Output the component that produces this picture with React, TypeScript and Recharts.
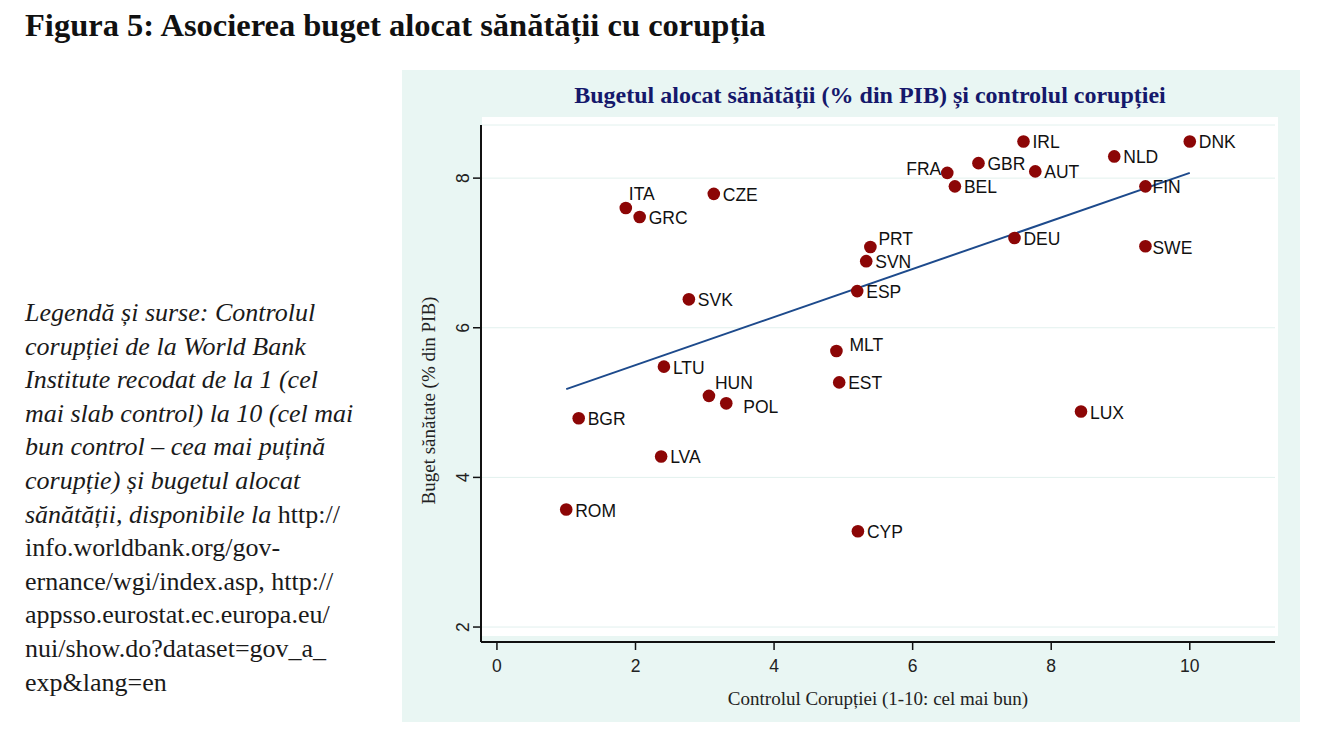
import React from 'react'
import {
  ScatterChart,
  Scatter,
  XAxis,
  YAxis,
  CartesianGrid,
} from 'recharts'

// Country codes, control of corruption (1-10) and health budget (% of GDP)
const countries = [
  'ROM', 'BGR', 'ITA', 'GRC', 'CZE', 'SVK', 'LTU', 'HUN', 'POL',
  'LVA', 'MLT', 'EST', 'CYP', 'ESP', 'SVN', 'PRT', 'FRA', 'BEL',
  'GBR', 'IRL', 'AUT', 'DEU', 'NLD', 'FIN', 'SWE', 'DNK', 'LUX',
]
const corruptionControl = [
  1.0, 1.18, 1.86, 2.06, 3.13, 2.77, 2.41, 3.06, 3.31,
  2.37, 4.9, 4.94, 5.21, 5.2, 5.33, 5.39, 6.5, 6.61,
  6.95, 7.6, 7.77, 7.47, 8.91, 9.36, 9.36, 10.0, 8.43,
]
const healthBudget = [
  3.57, 4.79, 7.6, 7.48, 7.79, 6.38, 5.48, 5.09, 4.99,
  4.28, 5.69, 5.27, 3.28, 6.49, 6.89, 7.08, 8.07, 7.89,
  8.2, 8.49, 8.09, 7.2, 8.29, 7.89, 7.09, 8.49, 4.88,
]

// fitted linear trend, end points
const fitX = [1.0, 10.0]
const fitY = [5.18, 8.07]

const xTicks = [0, 2, 4, 6, 8, 10]
const yTicks = [2, 4, 6, 8]

const points = countries.map((code, i) => ({
  code,
  x: corruptionControl[i],
  y: healthBudget[i],
}))
const fitData = fitX.map((x, i) => ({ x, y: fitY[i] }))

// marker label placement: [dx, dy, anchor]
const labelPos: Record<string, [number, number, 'start' | 'end']> = {
  ITA: [3, -14, 'start'],
  HUN: [6, -13, 'start'],
  POL: [17, 4, 'start'],
  MLT: [13, -6, 'start'],
  FRA: [-6, -4, 'end'],
  PRT: [8, -8, 'start'],
  FIN: [7, 1, 'start'],
  SWE: [7, 2, 'start'],
}

const sans = '"Liberation Sans", Arial, sans-serif'
const serif = '"Liberation Serif", "Times New Roman", serif'

const PointShape = (props: any) => {
  const { cx, cy, payload } = props
  const [dx, dy, anchor] = labelPos[payload.code] || [9, 1, 'start']
  return (
    <g>
      <circle cx={cx} cy={cy} r={6.3} fill="#8c0606" />
      <text
        x={cx + dx}
        y={cy + dy}
        textAnchor={anchor}
        dominantBaseline="central"
        fontFamily={sans}
        fontSize={17.5}
        fill="#111"
      >
        {payload.code}
      </text>
    </g>
  )
}

const YTick = ({ x, y, payload }: any) => (
  <text
    x={x - 8}
    y={y}
    transform={`rotate(-90 ${x - 8} ${y})`}
    textAnchor="middle"
    dominantBaseline="central"
    fontFamily={sans}
    fontSize={17.5}
    fill="#222"
  >
    {payload.value}
  </text>
)

const leftLines: { it: string; up?: string }[] = [
  { it: 'Legendă și surse: Controlul' },
  { it: 'corupției de la World Bank' },
  { it: 'Institute recodat de la 1 (cel' },
  { it: 'mai slab control) la 10 (cel mai' },
  { it: 'bun control – cea mai puțină' },
  { it: 'corupție) și bugetul alocat' },
  { it: 'sănătății, disponibile la', up: ' http://' },
  { it: '', up: 'info.worldbank.org/gov-' },
  { it: '', up: 'ernance/wgi/index.asp, http://' },
  { it: '', up: 'appsso.eurostat.ec.europa.eu/' },
  { it: '', up: 'nui/show.do?dataset=gov_a_' },
  { it: '', up: 'exp&lang=en' },
]

export default function App() {
  return (
    <div style={{ position: 'absolute', left: 0, top: 0, width: 1317, height: 750, background: '#fff' }}>
      <div
        style={{
          position: 'absolute',
          left: 25,
          top: 7,
          fontFamily: serif,
          fontWeight: 'bold',
          fontSize: 32.5,
          color: '#111',
          whiteSpace: 'nowrap',
        }}
      >
        Figura 5: Asocierea buget alocat sănătății cu corupția
      </div>

      <div style={{ position: 'absolute', left: 25, top: 296, fontFamily: serif, fontSize: 26, color: '#1a1a1a' }}>
        {leftLines.map((l, i) => (
          <div key={i} style={{ height: 33.6, lineHeight: '33.6px', whiteSpace: 'pre' }}>
            <span style={{ fontStyle: 'italic' }}>{l.it}</span>
            {l.up && <span>{l.up}</span>}
          </div>
        ))}
      </div>

      {/* chart panel */}
      <div style={{ position: 'absolute', left: 402, top: 70, width: 898, height: 652, background: '#e9f6f3' }} />
      <div style={{ position: 'absolute', left: 482, top: 117, width: 796, height: 519, background: '#fff' }} />
      <div
        style={{
          position: 'absolute',
          left: 470,
          top: 82,
          width: 800,
          textAlign: 'center',
          fontFamily: serif,
          fontWeight: 'bold',
          fontSize: 24,
          color: '#15186b',
          whiteSpace: 'nowrap',
        }}
      >
        Bugetul alocat sănătății (% din PIB) și controlul corupției
      </div>

      <div style={{ position: 'absolute', left: 402, top: 70 }}>
        <ScatterChart width={898} height={652} margin={{ top: 55, right: 25, left: 0, bottom: 0 }}>
          <CartesianGrid horizontal vertical={false} stroke="#e2f1ee" strokeWidth={1} />
          <XAxis
            type="number"
            dataKey="x"
            domain={[-0.23, 11.23]}
            ticks={xTicks}
            height={80}
            axisLine={{ stroke: '#111', strokeWidth: 2 }}
            tickLine={{ stroke: '#111', strokeWidth: 1.5 }}
            tickSize={8}
            tickMargin={10}
            tick={{ fontFamily: sans, fontSize: 17.5, fill: '#222' }}
            label={(p: any) => {
              const vb = p.viewBox
              return (
                <text
                  x={vb.x + vb.width / 2}
                  y={vb.y + 56}
                  textAnchor="middle"
                  dominantBaseline="central"
                  fontFamily={serif}
                  fontSize={19}
                  fill="#222"
                >
                  Controlul Corupției (1-10: cel mai bun)
                </text>
              )
            }}
          />
          <YAxis
            type="number"
            dataKey="y"
            domain={[1.8, 8.71]}
            ticks={yTicks}
            width={79}
            axisLine={{ stroke: '#111', strokeWidth: 2 }}
            tickLine={{ stroke: '#111', strokeWidth: 1.5 }}
            tickSize={8}
            tick={<YTick />}
            label={(p: any) => {
              const vb = p.viewBox
              const cx = vb.x + 26
              const cy = vb.y + vb.height / 2 + 17
              return (
                <text
                  x={cx}
                  y={cy}
                  transform={`rotate(-90 ${cx} ${cy})`}
                  textAnchor="middle"
                  dominantBaseline="central"
                  fontFamily={serif}
                  fontSize={19}
                  fill="#222"
                >
                  Buget sănătate (% din PIB)
                </text>
              )
            }}
          />
          <Scatter
            data={fitData}
            line={{ stroke: '#1d4a8c', strokeWidth: 2 }}
            shape={() => <g />}
            isAnimationActive={false}
            legendType="none"
          />
          <Scatter data={points} shape={<PointShape />} isAnimationActive={false} />
        </ScatterChart>
      </div>
    </div>
  )
}
